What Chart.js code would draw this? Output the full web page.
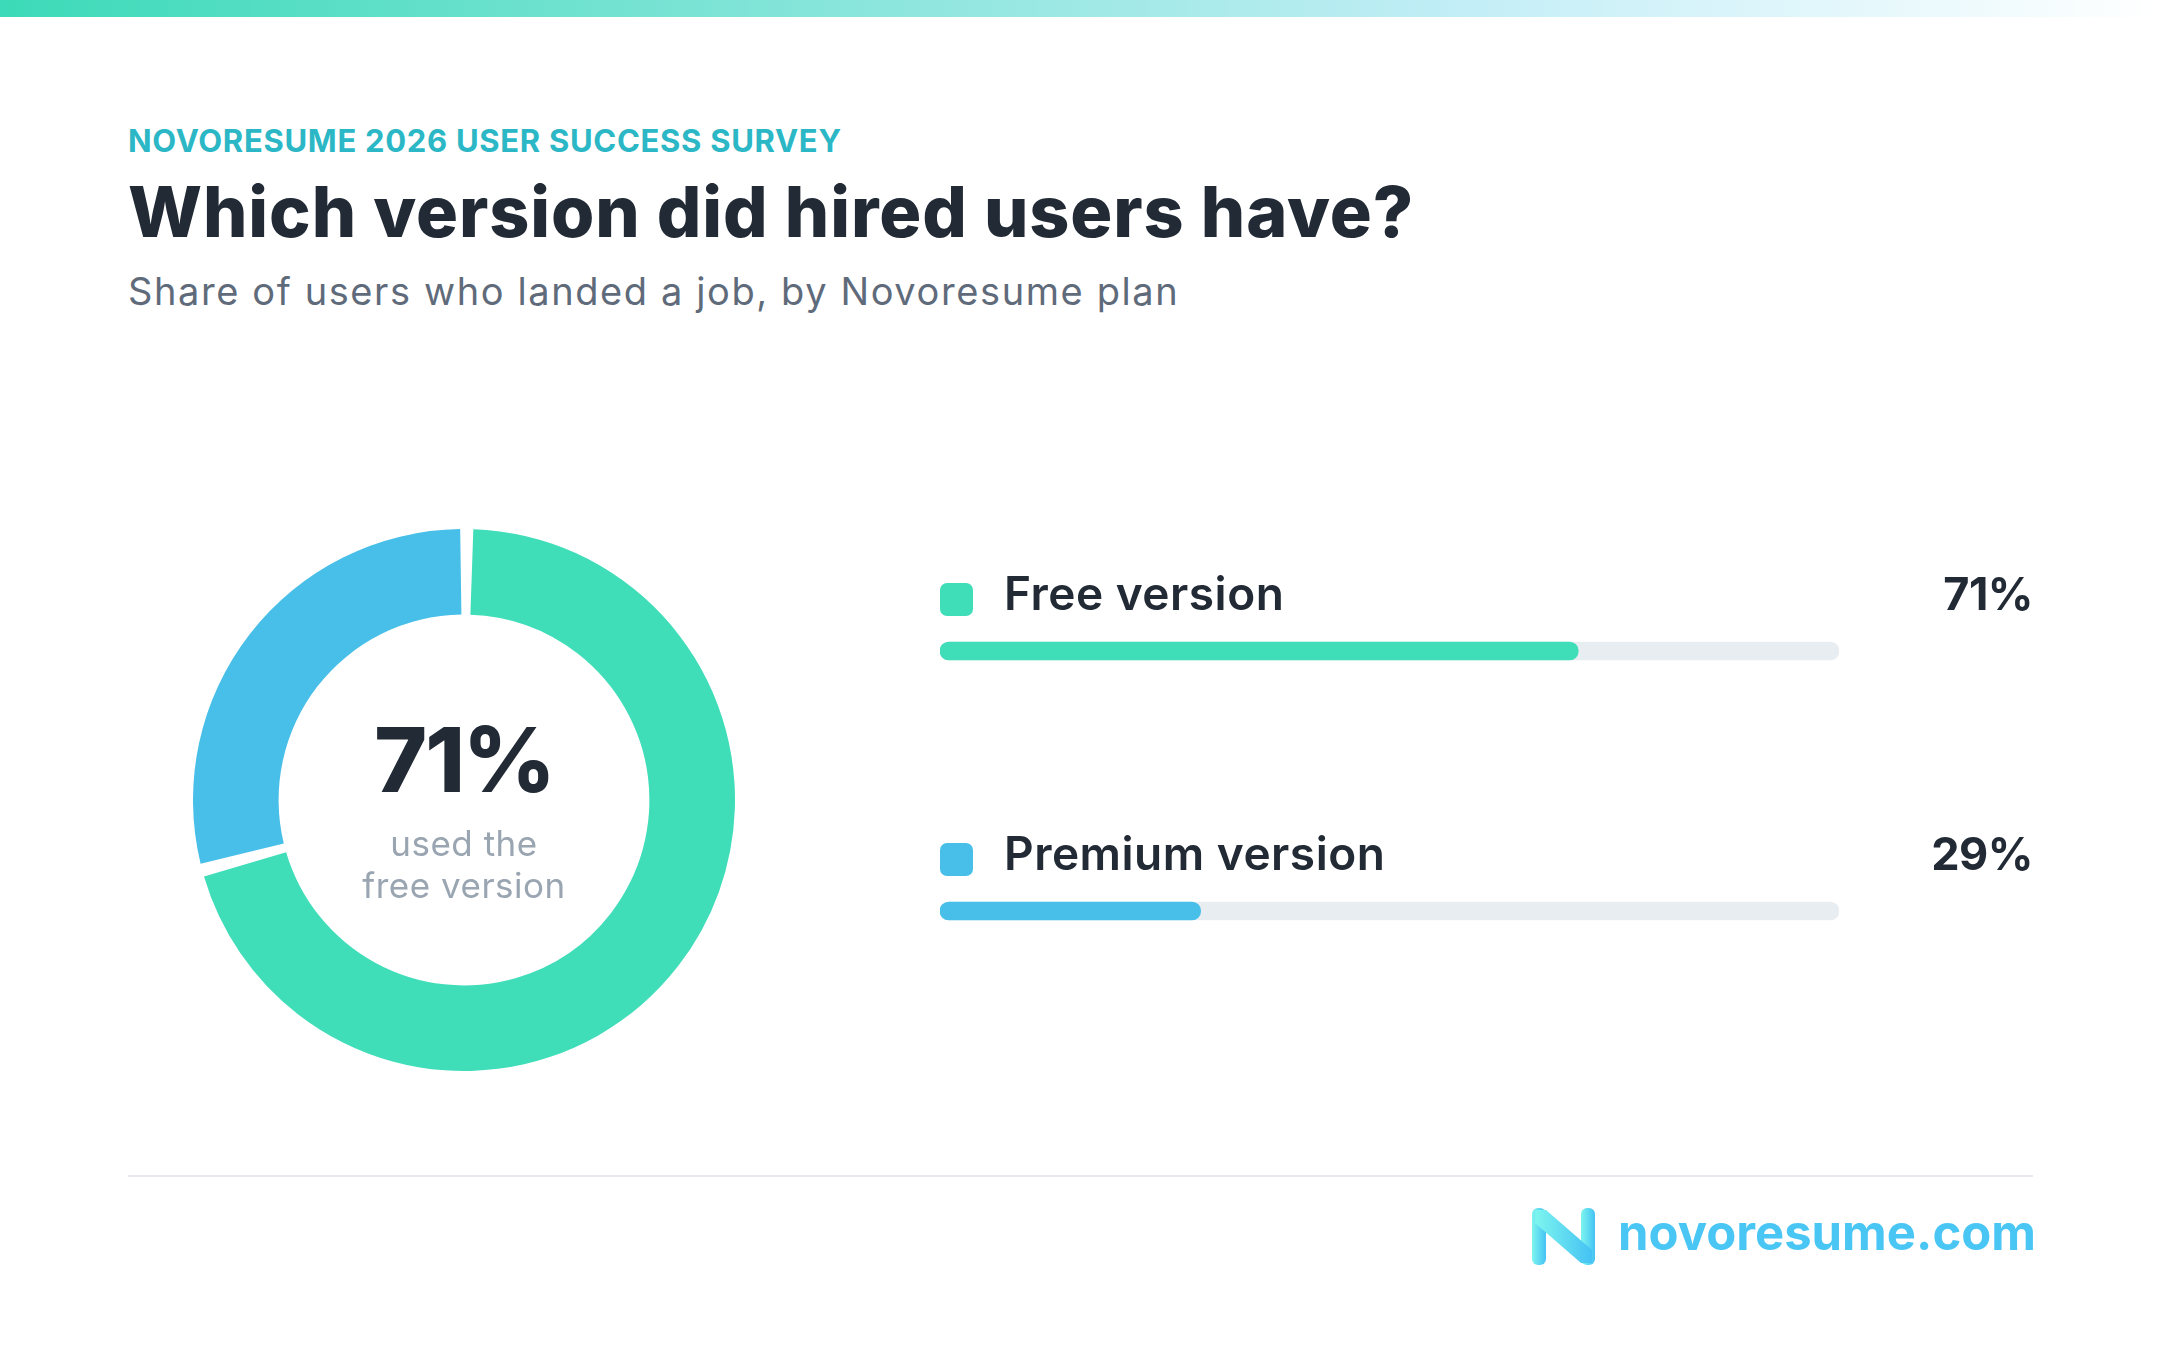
<!DOCTYPE html>
<html>
<head>
<meta charset="utf-8">
<script src="https://cdn.jsdelivr.net/npm/chart.js@4.4.1/dist/chart.umd.min.js"></script>
<style>
  body { margin: 0; width: 2160px; height: 1360px; background: #fff; position: relative; overflow: hidden; font-family: Inter, "Noto Sans", sans-serif; }
  .topbar { position: absolute; left: 0; top: 0; width: 2160px; height: 17px;
    background: linear-gradient(90deg, #3cdab8 0%, #80e4d7 35%, #c3eef7 68%, #ffffff 100%); }
  .txt { position: absolute; left: 128px; line-height: 1; white-space: nowrap; }
  .kicker { top: 125px; font-size: 31px; font-weight: 700; color: #2bb7c5; letter-spacing: 0.7px; }
  .title { top: 177px; font-size: 70px; font-weight: 800; color: #222a35; letter-spacing: 0.9px; }
  .subtitle { top: 272px; font-size: 38px; font-weight: 400; color: #5f6b7a; letter-spacing: 1.6px; }
  #donut { position: absolute; left: 193px; top: 529px; }
  #bars { position: absolute; left: 940px; top: 521px; }
  .divider { position: absolute; left: 128px; top: 1175px; width: 1905px; height: 2px; background: #e6eaef; }
  .logo { position: absolute; left: 1532px; top: 1208px; }
  .logotext { position: absolute; left: 1618px; top: 1208px; font-size: 49px; font-weight: 700; color: #4ac6f4; line-height: 1; }
</style>
</head>
<body>
<div class="topbar"></div>
<div class="txt kicker">NOVORESUME 2026 USER SUCCESS SURVEY</div>
<div class="txt title">Which version did hired users have?</div>
<div class="txt subtitle">Share of users who landed a job, by Novoresume plan</div>

<canvas id="donut" width="542" height="542"></canvas>
<canvas id="bars" width="1100" height="520"></canvas>

<div class="divider"></div>
<svg class="logo" width="63" height="57" viewBox="0 0 63 57">
  <defs>
    <linearGradient id="lg" x1="0" y1="0" x2="1" y2="0">
      <stop offset="0" stop-color="#7df5ee"/>
      <stop offset="1" stop-color="#45c2f4"/>
    </linearGradient>
  </defs>
  <rect x="0" y="0" width="14" height="57" rx="6" fill="url(#lg)"/>
  <rect x="49" y="0" width="14" height="57" rx="6" fill="url(#lg)"/>
  <polygon points="3,2 14,2 60,42 60,55 49,55 3,15" fill="url(#lg)"/>
</svg>
<div class="logotext">novoresume.com</div>

<script>
// survey data
const categories = ['Free version', 'Premium version'];
const shares = [71, 29];
const colors = ['#3fddb8', '#47bfe9'];
const centerCaption = ['used the', 'free version'];
const scaleMax = 100;

const textDark = '#222a35';
const fontFamily = 'Inter, "Noto Sans", sans-serif';

// big number + caption in the hole of the donut
const centerText = {
  id: 'centerText',
  afterDraw(chart) {
    const ctx = chart.ctx;
    const arc = chart.getDatasetMeta(0).data[0];
    const cx = arc.x, cy = arc.y;
    ctx.save();
    ctx.textAlign = 'center';
    ctx.textBaseline = 'alphabetic';
    ctx.fillStyle = textDark;
    ctx.font = '800 90px ' + fontFamily;
    ctx.letterSpacing = '-2px';
    ctx.fillText(shares[0] + '%', cx, cy - 8);
    ctx.letterSpacing = '0.5px';
    ctx.fillStyle = '#9aa5b2';
    ctx.font = '400 35px ' + fontFamily;
    ctx.fillText(centerCaption[0], cx, cy + 56);
    ctx.fillText(centerCaption[1], cx, cy + 98);
    ctx.restore();
  }
};

new Chart(document.getElementById('donut'), {
  type: 'doughnut',
  data: {
    labels: categories,
    datasets: [{
      data: shares,
      backgroundColor: colors,
      borderWidth: 0,
      spacing: 7
    }]
  },
  options: {
    responsive: false,
    animation: false,
    cutout: '68%',
    plugins: { legend: { display: false }, tooltip: { enabled: false } }
  },
  plugins: [centerText]
});

// swatch, label and value above each progress bar
const barLabels = {
  id: 'barLabels',
  afterDraw(chart) {
    const ctx = chart.ctx;
    const area = chart.chartArea;
    chart.getDatasetMeta(0).data.forEach((bar, i) => {
      const y = bar.y;
      ctx.save();
      ctx.fillStyle = colors[i];
      ctx.beginPath();
      ctx.roundRect(area.left, y - 68, 33, 33, 7);
      ctx.fill();
      ctx.fillStyle = textDark;
      ctx.textBaseline = 'alphabetic';
      ctx.font = '600 46px ' + fontFamily;
      ctx.letterSpacing = '0.5px';
      ctx.textAlign = 'left';
      ctx.fillText(categories[i], area.left + 64, y - 41);
      ctx.font = '700 45px ' + fontFamily;
      ctx.letterSpacing = '-0.5px';
      ctx.textAlign = 'right';
      ctx.fillText(shares[i] + '%', area.right + 194, y - 41);
      ctx.restore();
    });
  }
};

new Chart(document.getElementById('bars'), {
  type: 'bar',
  data: {
    labels: categories,
    datasets: [
      {
        data: shares,
        backgroundColor: colors,
        borderRadius: 9,
        borderSkipped: false,
        barThickness: 18,
        grouped: false,
        order: 0
      },
      {
        data: categories.map(() => scaleMax),
        backgroundColor: '#e8edf2',
        borderRadius: 9,
        borderSkipped: false,
        barThickness: 18,
        grouped: false,
        order: 1
      }
    ]
  },
  options: {
    indexAxis: 'y',
    responsive: false,
    animation: false,
    layout: { padding: { left: 0, right: 201, top: 0, bottom: 0 } },
    scales: {
      x: { display: false, min: 0, max: scaleMax },
      y: { display: false }
    },
    plugins: { legend: { display: false }, tooltip: { enabled: false } }
  },
  plugins: [barLabels]
});
</script>
</body>
</html>
